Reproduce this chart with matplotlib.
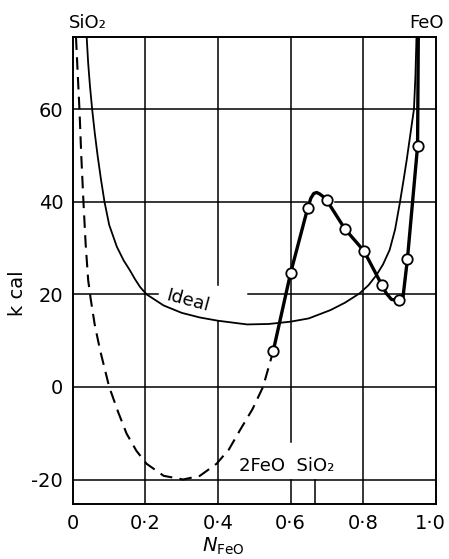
import numpy as np
import matplotlib
matplotlib.use('Agg')
import matplotlib.pyplot as plt
import matplotlib.transforms as mtransforms

# ideal solution curve (solid, thin)
ideal_x = [0.038, 0.042, 0.047, 0.053, 0.060, 0.068, 0.077, 0.087, 0.100, 0.121, 0.140,
           0.157, 0.171, 0.185, 0.203, 0.25, 0.30, 0.35, 0.40, 0.48, 0.54,
           0.60, 0.65, 0.71, 0.75, 0.79, 0.815, 0.837, 0.855, 0.873, 0.888, 0.901,
           0.911, 0.920, 0.930, 0.940, 0.944, 0.947]
ideal_y = [75.5, 70, 65, 60, 55, 50, 45, 40, 35, 30.3, 27.3,
           25.2, 23.3, 21.6, 20.0, 17.6, 16.0, 15.0, 14.3, 13.5, 13.6,
           14.1, 14.8, 16.6, 18.2, 20.2, 22.0, 24.2, 26.5, 29.6, 34.0, 39.7,
           44.5, 49.0, 54.5, 60, 67, 75.5]

# dashed curve
dash_x = [0.0085, 0.013, 0.018, 0.023, 0.029, 0.035, 0.042, 0.049, 0.060, 0.075, 0.100,
          0.125, 0.148, 0.175, 0.203, 0.25, 0.304, 0.35, 0.396, 0.43, 0.460, 0.495,
          0.524, 0.552]
dash_y = [75.5, 68, 60, 50, 40, 31, 23.1, 19.0, 13.5, 7.9, 0.0,
          -5.5, -10.1, -13.8, -16.6, -19.2, -20.0, -19.2, -16.6, -13.5, -9.4, -4.8,
          0.0, 7.7]

# measured curve (thick)
meas_x = [0.552, 0.600, 0.647, 0.656, 0.664, 0.672, 0.680, 0.690, 0.699, 0.750, 0.802,
          0.851, 0.864, 0.878, 0.898, 0.910, 0.922, 0.950, 0.952]
meas_y = [7.7, 24.6, 38.6, 40.8, 41.8, 42.0, 41.7, 41.1, 40.4, 34.1, 29.4,
          22.1, 20.2, 18.9, 18.7, 19.5, 27.6, 52.0, 75.5]

# experimental points (circles)
pts_x = [0.552, 0.600, 0.647, 0.699, 0.750, 0.802, 0.851, 0.898, 0.922, 0.950]
pts_y = [7.7, 24.6, 38.6, 40.4, 34.1, 29.4, 22.1, 18.7, 27.6, 52.0]

xticks = [0, 0.2, 0.4, 0.6, 0.8, 1.0]
xticklabels = ['0', '0·2', '0·4', '0·6', '0·8', '1·0']
yticks = [-20, 0, 20, 40, 60]
yticklabels = ['-20', '0', '20', '40', '60']

fig = plt.figure(figsize=(4.49, 5.59), dpi=100)
ax = fig.add_axes([0.1624, 0.0975, 0.808, 0.8355])
ax.set_xlim(0, 1.0)
ax.set_ylim(-25.4, 75.5)

# grid lines, with the breaks seen in the original drawing
gl = dict(color='black', lw=1.1, zorder=1)
hsegs = [(-20, 0, 1), (0, 0, 1), (20, 0, 0.235), (20, 0.483, 1),
         (40, 0, 0.644), (40, 0.722, 1), (60, 0, 1)]
for y, a, b in hsegs:
    ax.plot([a, b], [y, y], **gl)
vsegs = [(0.2, -25.4, 75.5), (0.4, 22, 75.5), (0.4, -25.4, 14.3),
         (0.6, -12, 75.5), (0.6, -25.4, -20), (0.667, -25.4, -20), (0.8, -25.4, 75.5)]
for x, a, b in vsegs:
    ax.plot([x, x], [a, b], **gl)

ax.plot(ideal_x, ideal_y, color='black', lw=1.3, zorder=2, solid_joinstyle='round')
ax.plot(dash_x, dash_y, color='black', lw=1.5, dashes=(6, 3.5), zorder=2)
ax.plot(meas_x, meas_y, color='black', lw=2.4, zorder=3, solid_joinstyle='round')
ax.plot(pts_x, pts_y, 'o', ms=7.5, mfc='white', mec='black', mew=1.3, zorder=4)

ax.text(0.318, 18.6, 'Ideal', fontsize=13, rotation=-15, ha='center', va='center')
ax.text(0.588, -17.0, '2FeO  SiO₂', fontsize=13, ha='center', va='center')

ax.set_xticks(xticks)
ax.set_xticklabels(xticklabels)
ax.set_yticks(yticks)
ax.set_yticklabels(yticklabels)
ax.tick_params(length=0, labelsize=14, pad=7)
# nudge the last x label left so it stays inside the picture
last = ax.get_xticklabels()[-1]
last.set_transform(last.get_transform() +
                   mtransforms.ScaledTranslation(-5 / 100, 0, fig.dpi_scale_trans))
for s in ax.spines.values():
    s.set_linewidth(1.4)

fig.text(0.040, 1 - 293 / 559, 'k cal', fontsize=14, rotation=90, ha='center', va='center')
fig.text(0.497, 0.004, r'$N_{\mathrm{FeO}}$', fontsize=14, ha='center', va='bottom')
fig.text(0.195, 1 - 23 / 559, 'SiO₂', fontsize=13, ha='center', va='center')
fig.text(0.951, 1 - 23 / 559, 'FeO', fontsize=13, ha='center', va='center')

plt.savefig('out.png', dpi=100)
